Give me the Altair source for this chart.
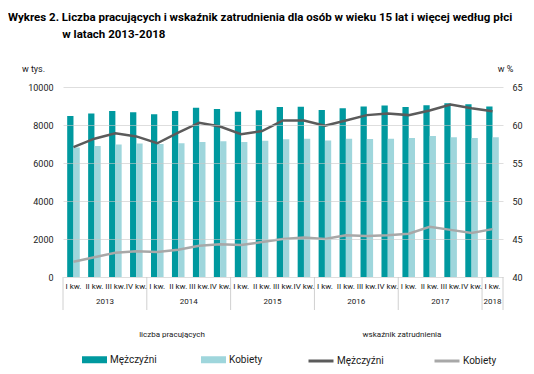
import altair as alt
import pandas as pd

quarters = ["I kw.", "II kw.", "III kw.", "IV kw."]
qlabels = quarters * 5 + ["I kw."]
years = [2013] * 4 + [2014] * 4 + [2015] * 4 + [2016] * 4 + [2017] * 4 + [2018]

men_emp = [8470, 8610, 8740, 8670, 8560, 8740, 8910, 8840, 8700, 8770, 8950,
           8965, 8790, 8880, 8980, 9020, 8950, 9035, 9140, 9090, 8980]
women_emp = [6810, 6895, 6980, 7020, 7000, 7035, 7105, 7140, 7105, 7175, 7245,
             7280, 7190, 7280, 7265, 7280, 7315, 7420, 7350, 7315, 7350]
men_rate = [57.1, 58.2, 58.9, 58.5, 57.6, 59.0, 60.3, 59.8, 58.8, 59.2, 60.6,
            60.6, 59.9, 60.6, 61.3, 61.5, 61.3, 61.9, 62.7, 62.2, 61.8]
women_rate = [42.0, 42.6, 43.2, 43.4, 43.3, 43.6, 44.1, 44.3, 44.2, 44.6, 45.0,
              45.2, 45.0, 45.5, 45.4, 45.5, 45.7, 46.6, 46.2, 45.8, 46.3]

sexes = ["Mężczyźni", "Kobiety"]
rate_keys = ["Mężczyźni|wsk", "Kobiety|wsk"]
n = len(qlabels)
idx = list(range(n))

bars = pd.DataFrame({"idx": idx * 2, "sex": [sexes[0]] * n + [sexes[1]] * n,
                     "value": men_emp + women_emp})
lines = pd.DataFrame({"idx": idx * 2, "plec": [rate_keys[0]] * n + [rate_keys[1]] * n,
                      "rate": men_rate + women_rate})
qdf = pd.DataFrame({"idx": idx, "label": qlabels, "year": years})
ydf = qdf.groupby("year")["idx"].agg(["min", "max"]).reset_index()
ydf["mid"] = (ydf["min"] + ydf["max"]) / 2
ydf["yl"] = ydf["year"].astype(str)
seps = pd.DataFrame({"pos": sorted(set(list(ydf["min"] - 0.5) + [ydf["max"].max() + 0.5]))})

FONT = "Roboto"
TFONT = "Liberation Sans Narrow, Roboto"
TXT = "#1a1a1a"
W, H = 440, 190

xscale = alt.Scale(domain=[-0.5, n - 0.5], nice=False, zero=False)

bar = alt.Chart(bars).transform_calculate(
    x0="datum.idx + (datum.sex == 'Mężczyźni' ? -0.3 : 0)",
    x1="datum.idx + (datum.sex == 'Mężczyźni' ? 0 : 0.3)",
).mark_rect().encode(
    x=alt.X("x0:Q", scale=xscale,
            axis=alt.Axis(labels=False, ticks=False, grid=False, domain=True,
                          domainColor="#bfbfbf", title=None)),
    x2="x1:Q",
    y=alt.Y("value:Q", scale=alt.Scale(domain=[0, 10000], nice=False),
            axis=alt.Axis(values=[0, 2000, 4000, 6000, 8000, 10000], format="d", title="w tys.",
                          titleAngle=0, titleX=-30, titleY=-19, titleAlign="center",
                          titleBaseline="middle", titleFontWeight="normal",
                          titleFontSize=9, titleFont=FONT, titleColor=TXT,
                          labelFontSize=9, labelFont=FONT, labelColor=TXT,
                          labelPadding=10, ticks=False, domain=False,
                          grid=True, gridColor="#c8c8c8", gridOpacity=0.6, zindex=1)),
    y2=alt.datum(0),
    color=alt.Color("sex:N", scale=alt.Scale(domain=sexes, range=["#00999f", "#9fd6dc"]),
                    legend=alt.Legend(orient="none", legendX=19, legendY=244,
                                      direction="horizontal", title="liczba pracujących",
                                      titleOrient="top", titleAnchor="middle",
                                      titleFontSize=8, titleFontWeight="normal",
                                      titleFont=FONT, titleColor=TXT, titlePadding=8,
                                      labelFontSize=10, labelFont=FONT, labelColor=TXT,
                                      labelOffset=3, columnPadding=44,
                                      symbolType="M-1,-0.28H1V0.28H-1Z", symbolSize=625,
                                      symbolStrokeWidth=0)),
)

line = alt.Chart(lines).mark_line(strokeWidth=2.5).encode(
    x=alt.X("idx:Q", scale=xscale, axis=None),
    y=alt.Y("rate:Q", scale=alt.Scale(domain=[40, 65], nice=False, zero=False),
            axis=alt.Axis(orient="right", values=[40, 45, 50, 55, 60, 65], title="w %",
                          titleAngle=0, titleX=2, titleY=-19, titleAlign="center",
                          titleBaseline="middle", titleFontWeight="normal",
                          titleFontSize=9, titleFont=FONT, titleColor=TXT,
                          labelFontSize=9, labelFont=FONT, labelColor=TXT,
                          labelPadding=9, ticks=False, domain=False, grid=False)),
    stroke=alt.Stroke("plec:N", scale=alt.Scale(domain=rate_keys, range=["#5b5b5b", "#a8a8a8"]),
                      legend=alt.Legend(orient="none", legendX=244, legendY=244,
                                        direction="horizontal", title="wskaźnik zatrudnienia",
                                        titleOrient="top", titleAnchor="middle",
                                        titleFontSize=8, titleFontWeight="normal",
                                        titleFont=FONT, titleColor=TXT, titlePadding=8,
                                        labelFontSize=10, labelFont=FONT, labelColor=TXT,
                                        labelOffset=2, columnPadding=44,
                                        labelExpr="split(datum.label, '|')[0]",
                                        symbolType="stroke", symbolSize=625,
                                        symbolStrokeWidth=3)),
)

qtext = alt.Chart(qdf).mark_text(fontSize=8, font=FONT, color=TXT, baseline="middle").encode(
    x=alt.X("idx:Q", scale=xscale), y=alt.value(H + 10), text="label:N")

ytext = alt.Chart(ydf).mark_text(fontSize=8, font=FONT, color=TXT, baseline="middle").encode(
    x=alt.X("mid:Q", scale=xscale), y=alt.value(H + 25), text="yl:N")

seprule = alt.Chart(seps).mark_rule(color="#d0d0d0", strokeWidth=1).encode(
    x=alt.X("pos:Q", scale=xscale), y=alt.value(H), y2=alt.value(H + 33))

title_lines = ["Wykres 2. Liczba pracujących i wskaźnik zatrudnienia dla osób w wieku 15 lat i więcej według płci",
               "\u200b" + "\u00a0" * 19 + "w latach 2013-2018"]

chart = alt.layer(bar, line, seprule, qtext, ytext).resolve_scale(
    y="independent"
).properties(
    width=W, height=H,
    autosize=alt.AutoSizeParams(type="none"),
    padding={"left": 55, "top": 79, "right": 23, "bottom": 89},
    title=alt.TitleParams(text=title_lines, anchor="start", frame="group", dx=-55,
                          fontSize=11.5, font=TFONT, fontWeight="bold", color="#000",
                          lineHeight=17, offset=24),
).configure_view(stroke=None)

chart.save("out.html", embed_options={"renderer": "svg", "actions": False})
